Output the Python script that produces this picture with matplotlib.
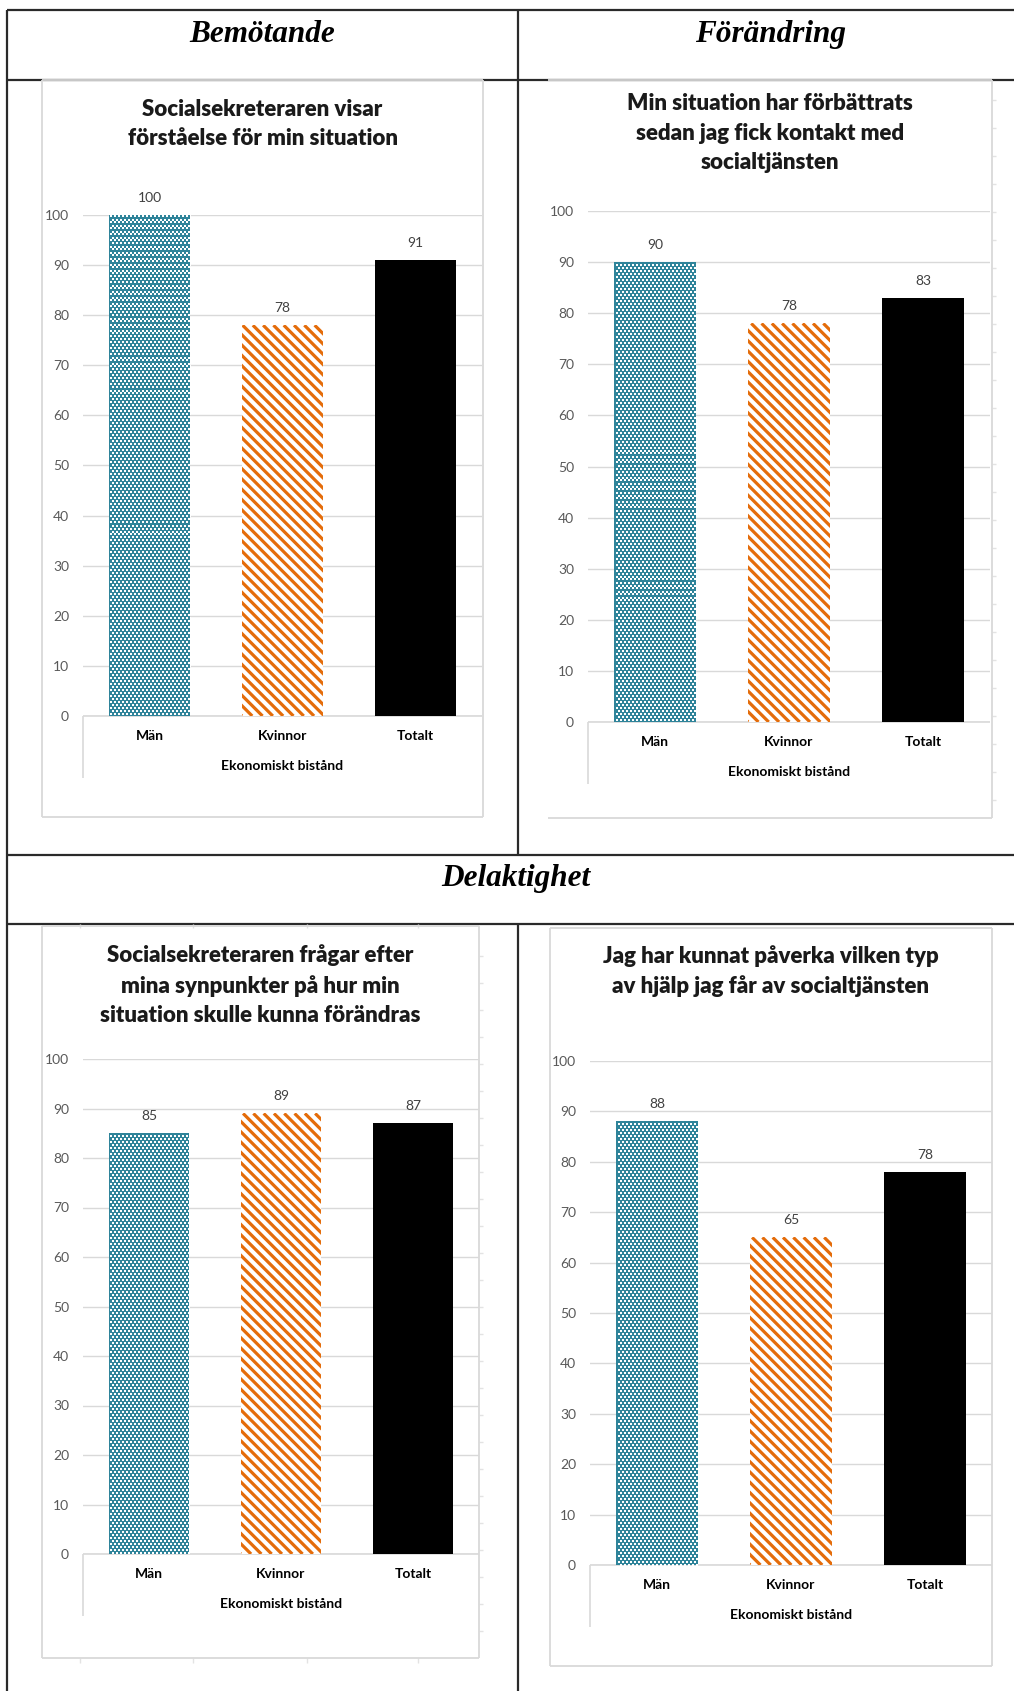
import numpy as np
import matplotlib.pyplot as plt
from matplotlib.collections import LineCollection

W, H = 1014, 1691
DPI = 100

categories = ['Män', 'Kvinnor', 'Totalt']
axis_title = 'Ekonomiskt bistånd'
sections = ['Bemötande', 'Förändring', 'Delaktighet']

titles = [
    'Socialsekreteraren visar\nförståelse för min situation',
    'Min situation har förbättrats\nsedan jag fick kontakt med\nsocialtjänsten',
    'Socialsekreteraren frågar efter\nmina synpunkter på hur min\nsituation skulle kunna förändras',
    'Jag har kunnat påverka vilken typ\nav hjälp jag får av socialtjänsten',
]
values_forstaelse = [100, 78, 91]
values_forbattrats = [90, 78, 83]
values_synpunkter = [85, 89, 87]
values_paverka = [88, 65, 78]
y_ticks = list(range(0, 101, 10))

TEAL = '#2F849A'
ORANGE = '#E46C0A'
GRID = '#D9D9D9'
TABLE = '#2A2A2A'
SANS = 'Lato'
SERIF = 'Liberation Serif'

# panel geometry in pixels (x0, y0, x1, y1) with y measured from the top
panels = [
    dict(frame=(42, 80, 483, 817), plot=(83, 215, 482, 716), title_y=124, left_edge=True),
    dict(frame=(548, 80, 992, 818), plot=(588, 211, 990, 722), title_y=133, left_edge=False),
    dict(frame=(42, 926, 479, 1658), plot=(83, 1059, 479, 1554), title_y=985, left_edge=True),
    dict(frame=(550, 928, 992, 1666), plot=(590, 1061, 992, 1565), title_y=971, left_edge=True),
]
panel_values = [values_forstaelse, values_forbattrats, values_synpunkter, values_paverka]

fig = plt.figure(figsize=(W / DPI, H / DPI), dpi=DPI)
fig.patch.set_facecolor('white')

# full-page layer in pixel coordinates for the table and chart frames
bg = fig.add_axes([0, 0, 1, 1], zorder=0)
bg.set_xlim(0, W)
bg.set_ylim(H, 0)
bg.axis('off')


def px_axes(x0, y0, x1, y1):
    return fig.add_axes([x0 / W, 1 - y1 / H, (x1 - x0) / W, (y1 - y0) / H], zorder=2)


def hline(y, x0, x1, **kw):
    bg.plot([x0, x1], [y, y], solid_capstyle='butt', **kw)


def vline(x, y0, y1, **kw):
    bg.plot([x, x], [y0, y1], solid_capstyle='butt', **kw)


# table grid
tab = dict(color=TABLE, lw=1.6)
for y in (10, 80, 855, 924):
    hline(y, 7, W, **tab)
vline(7, 10, H, **tab)
vline(518, 10, 855, **tab)
vline(518, 924, H, **tab)

head = dict(family=SERIF, style='italic', weight='bold', fontsize=22.5,
            ha='center', va='baseline', color='black')
bg.text(262, 42, sections[0], **head)
bg.text(771, 42, sections[1], **head)
bg.text(516, 886, sections[2], **head)

# spreadsheet cell marks peeking out along some chart borders
cell = dict(color='#E3E3E3', lw=1.0)
for y in np.arange(100, 818, 28):
    hline(y, 992, 996, **cell)
for y in np.arange(956, 1658, 27):
    hline(y, 479, 483, **cell)
for x in (80, 193, 307, 418):
    vline(x, 924, 928, **cell)
    vline(x, 1658, 1663, **cell)


def add_dots(ax, bar, plot, col_step=4, row_step=3):
    # white 1px dots snapped to the pixel grid, alternate rows shifted
    px0, py0, px1, py1 = plot
    sx = (px1 - px0) / 3.0
    sy = (py1 - py0) / 100.0
    bx, bw, bh = bar.get_x(), bar.get_width(), bar.get_height()
    left = px0 + (bx + 0.5) * sx
    right = left + bw * sx
    top = py1 - bh * sy
    xs, ys = [], []
    for i, gy in enumerate(np.arange(np.ceil(top) + 1, py1, row_step)):
        shift = col_step // 2 if i % 2 else 0
        gx = np.arange(np.ceil(left) + 1 + shift, right, col_step)
        xs.append((gx + 0.5 - px0) / sx - 0.5)
        ys.append(np.full(gx.shape, (py1 - (gy + 0.5)) / sy))
    dots = ax.scatter(np.concatenate(xs), np.concatenate(ys), s=(72 / DPI) ** 2 * 1.1,
                      marker='s', c='white', linewidths=0, zorder=3)
    dots.set_clip_path(bar)


def add_stripes(ax, bar, plot, color, step=10.3, lw=2.3):
    px0, py0, px1, py1 = plot
    sx = (px1 - px0) / 3.0
    sy = (py1 - py0) / 100.0
    bx, bw, bh = bar.get_x(), bar.get_width(), bar.get_height()
    wpx, hpx = bw * sx, bh * sy
    segs = []
    for c in np.arange(-hpx, wpx + step, step):
        p0 = (bx + c / sx, bh)
        p1 = (bx + (c + hpx) / sx, bh - hpx / sy)
        segs.append([p0, p1])
    lc = LineCollection(segs, colors=color, linewidths=lw, zorder=3)
    ax.add_collection(lc, autolim=False)
    lc.set_clip_path(bar)


for panel, title, vals in zip(panels, titles, panel_values):
    fx0, fy0, fx1, fy1 = panel['frame']
    px0, py0, px1, py1 = panel['plot']

    # chart area border
    frame = dict(color=GRID, lw=1.3)
    hline(fy0, fx0, fx1, **frame)
    hline(fy1, fx0, fx1, **frame)
    if panel['left_edge']:
        vline(fx0, fy0, fy1, **frame)
    vline(fx1, fy0, fy1, **frame)

    bg.text((fx0 + fx1) / 2, panel['title_y'], title, ha='center', va='center',
            family=SANS, weight='heavy', fontsize=16, color='#1A1A1A', linespacing=1.5)

    # category axis box
    hline(py1, px0, px1, color=GRID, lw=1.2)
    vline(px0, py1, py1 + 62, color=GRID, lw=1.2)

    ax = px_axes(px0, py0, px1, py1)
    ax.set_facecolor('none')
    x = np.arange(len(categories))
    bars = ax.bar(x, vals, width=0.61, color=[TEAL, 'white', 'black'],
                  linewidth=0, zorder=2)
    add_dots(ax, bars[0], panel['plot'])
    add_stripes(ax, bars[1], panel['plot'], ORANGE)

    for xi, v in zip(x, vals):
        ax.annotate(str(v), (xi, v), xytext=(0, 17), textcoords='offset pixels',
                    ha='center', va='center', family=SANS, fontsize=10,
                    color='#404040', annotation_clip=False)
        ax.annotate(categories[xi], (xi, 0), xytext=(0, -20), textcoords='offset pixels',
                    ha='center', va='center', family=SANS, weight='bold',
                    fontsize=10, color='black', annotation_clip=False)
    ax.annotate(axis_title, (0.5, 0), xycoords='axes fraction', xytext=(0, -50),
                textcoords='offset pixels', ha='center', va='center', family=SANS,
                weight='bold', fontsize=10, color='black')

    ax.set_xlim(-0.5, 2.5)
    ax.set_ylim(0, 100)
    ax.set_yticks(y_ticks)
    ax.set_yticklabels([str(t) for t in y_ticks], family=SANS, fontsize=10, color='#595959')
    ax.set_xticks([])
    ax.tick_params(axis='y', length=0, pad=10)
    ax.grid(axis='y', color=GRID, lw=1.0)
    ax.set_axisbelow(True)
    for s in ax.spines.values():
        s.set_visible(False)

fig.savefig('out.png', dpi=DPI, facecolor='white')
